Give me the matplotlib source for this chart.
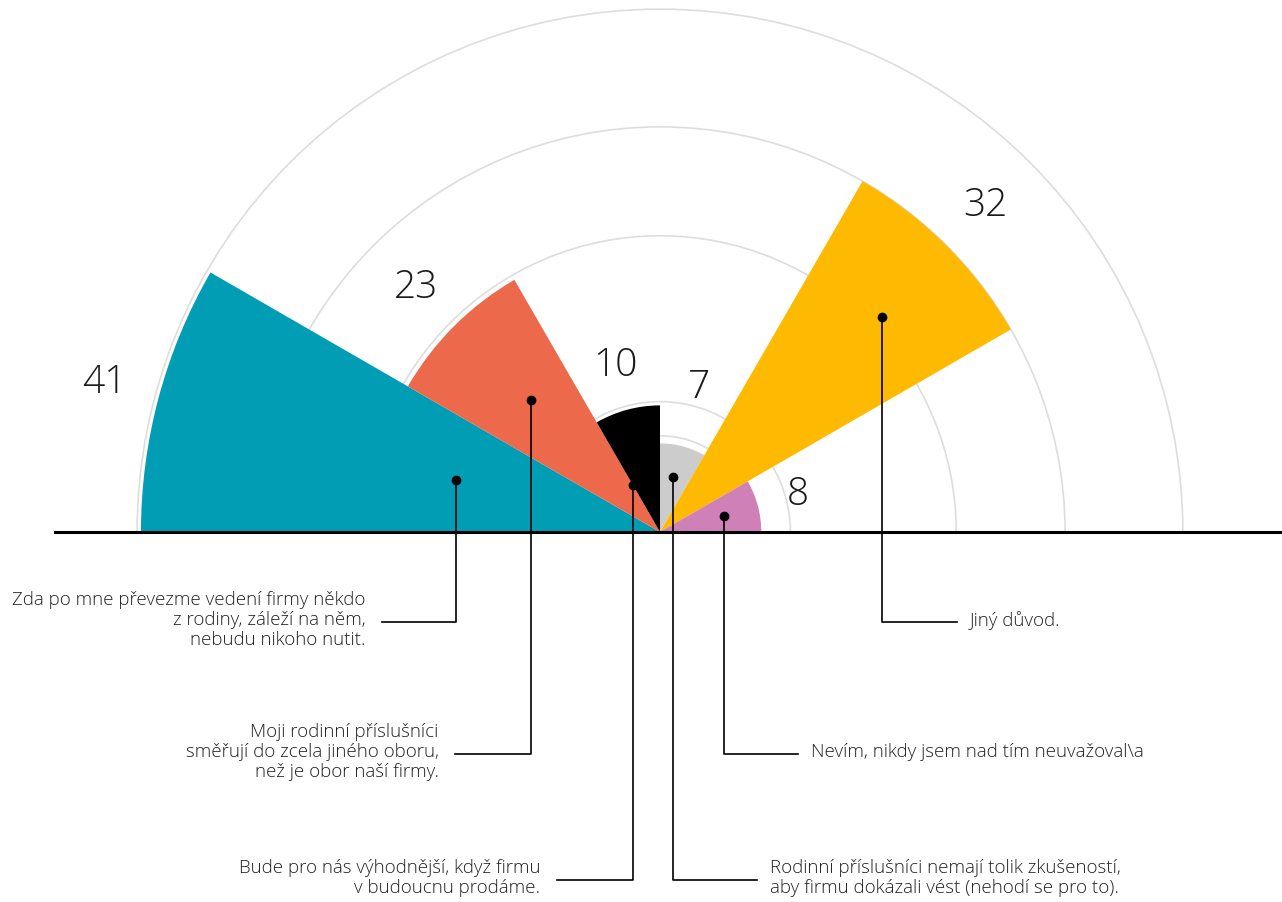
import matplotlib
matplotlib.use('Agg')
import matplotlib.pyplot as plt
from matplotlib.patches import Wedge, Arc
import numpy as np

# data, left to right around the half circle
values = [41, 23, 10, 7, 32, 8]
colors = ['#009db5', '#ec694b', '#000000', '#cccccc', '#fdba00', '#cf80b6']
labels = [
    'Zda po mne převezme vedení firmy někdo\nz rodiny, záleží na něm,\nnebudu nikoho nutit.',
    'Moji rodinní příslušníci\nsměřují do zcela jiného oboru,\nnež je obor naší firmy.',
    'Bude pro nás výhodnější, když firmu\nv budoucnu prodáme.',
    'Rodinní příslušníci nemají tolik zkušeností,\naby firmu dokázali vést (nehodí se pro to).',
    'Jiný důvod.',
    'Nevím, nikdy jsem nad tím neuvažoval\\a',
]
grid_radii = [7.6, 10.3, 23.4, 32.0, 41.3]

# leader layout: dot (radius, angle deg), elbow y, end x
dot_pos = [(16.6, 165.7), (14.6, 134.3), (4.3, 120.2), (4.45, 76.7), (24.4, 44.1), (5.2, 14.0)]
leader_y = [-7.11, -17.54, -27.49, -27.49, -7.11, -17.54]
leader_x = [-21.96, -16.19, -8.14, 7.66, 23.46, 10.90]
num_offset = [4.4, 4.3, 3.6, 4.8, 4.4, 3.3]

plt.rcParams['font.family'] = ['Open Sans', 'DejaVu Sans']

S = 12.66  # pixels per unit
fig = plt.figure(figsize=(12.82, 9.02), dpi=100)
ax = fig.add_axes([0, 0, 1, 1])
ax.set_xlim(-660 / S, (1282 - 660) / S)
ax.set_ylim(-(902 - 532) / S, 532 / S)
ax.set_aspect('equal')
ax.axis('off')

for r in grid_radii:
    ax.add_patch(Arc((0, 0), 2 * r, 2 * r, theta1=0, theta2=180,
                     color='#dddddd', lw=1.2, zorder=1))

step = 180 / len(values)
for i, (v, c) in enumerate(zip(values, colors)):
    t2 = 180 - i * step
    t1 = t2 - step
    ax.add_patch(Wedge((0, 0), v, t1, t2, facecolor=c, edgecolor='none', zorder=2))
    mid = np.radians((t1 + t2) / 2)
    lr = v + num_offset[i]
    ax.text(lr * np.cos(mid), lr * np.sin(mid), str(v), fontsize=28,
            fontweight='light', ha='center', va='center', color='#1a1a1a', zorder=4)

ax.plot([-605 / S, 622 / S], [0, 0], color='black', lw=2.2, zorder=3)

for i, lab in enumerate(labels):
    r, a = dot_pos[i]
    dx, dy = r * np.cos(np.radians(a)), r * np.sin(np.radians(a))
    ly, lx = leader_y[i], leader_x[i]
    ax.plot([dx, dx, lx], [dy, ly, ly], color='black', lw=1.2, zorder=5)
    ax.plot(dx, dy, 'o', color='black', ms=6, zorder=5)
    left = lx < dx
    tx = lx - 1.3 if left else lx + 1.0
    ax.text(tx, ly + 0.15, lab, fontsize=13.5, fontweight='light', color='#222222',
            ha='right' if left else 'left', va='center', multialignment='right' if left else 'left',
            linespacing=1.13, zorder=5)

fig.savefig('out.png', dpi=100)
